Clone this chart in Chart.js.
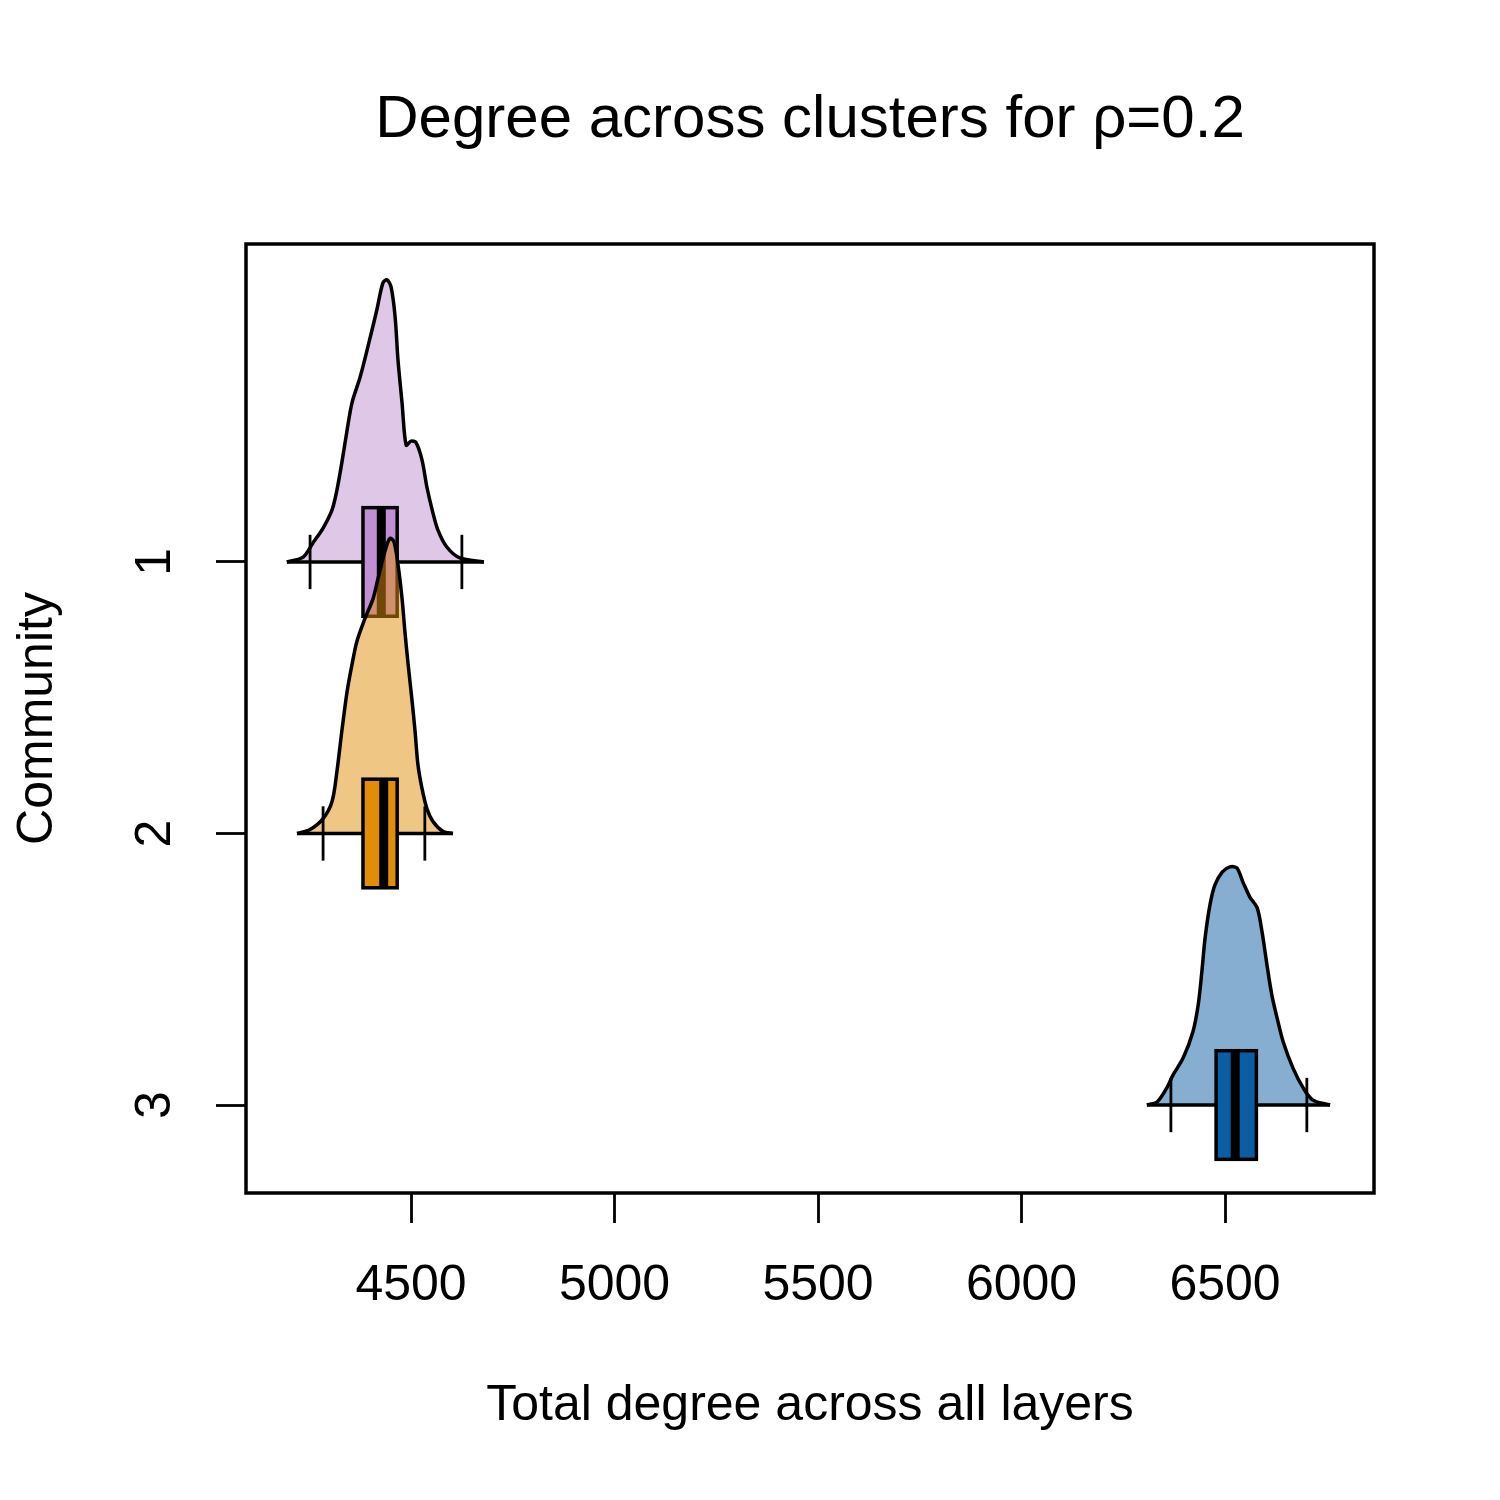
<!DOCTYPE html>
<html>
<head>
<meta charset="utf-8">
<script src="https://cdn.jsdelivr.net/npm/chart.js@4/dist/chart.umd.min.js"></script>
<style>
  html, body { margin: 0; padding: 0; background: #fff; }
  canvas { display: block; }
</style>
</head>
<body>
<canvas id="chart" width="1500" height="1500"></canvas>
<script>
const communities = ['1', '2', '3'];
const xTicks = [4500, 5000, 5500, 6000, 6500];

// density outline of each community (total degree, density height)
const degree1 = [4195, 4235, 4259, 4284, 4306, 4318, 4330, 4343, 4355, 4375, 4394, 4416, 4431, 4441, 4451, 4461, 4468, 4478, 4488, 4500, 4512, 4527, 4539, 4552, 4566, 4588, 4620, 4679];
const density1 = [0, 0.018, 0.070, 0.125, 0.192, 0.265, 0.365, 0.486, 0.586, 0.681, 0.792, 0.928, 1.028, 1.039, 1.013, 0.902, 0.744, 0.586, 0.430, 0.445, 0.440, 0.376, 0.276, 0.192, 0.118, 0.055, 0.015, 0];

const degree2 = [4220, 4252, 4284, 4306, 4318, 4330, 4343, 4355, 4367, 4387, 4407, 4419, 4436, 4448, 4458, 4468, 4478, 4485, 4493, 4502, 4510, 4517, 4527, 4539, 4554, 4579, 4603];
const density2 = [0, 0.015, 0.055, 0.118, 0.228, 0.376, 0.523, 0.622, 0.707, 0.792, 0.866, 0.939, 1.039, 1.087, 1.075, 0.991, 0.866, 0.744, 0.622, 0.497, 0.376, 0.254, 0.166, 0.092, 0.044, 0.007, 0];

const degree3 = [6308, 6333, 6357, 6372, 6397, 6421, 6434, 6443, 6451, 6463, 6475, 6493, 6512, 6529, 6544, 6561, 6579, 6591, 6603, 6615, 6628, 6643, 6667, 6692, 6716, 6758];
const density3 = [0, 0.011, 0.063, 0.110, 0.173, 0.269, 0.368, 0.490, 0.615, 0.737, 0.810, 0.858, 0.877, 0.873, 0.821, 0.766, 0.726, 0.637, 0.516, 0.405, 0.320, 0.232, 0.136, 0.063, 0.018, 0];

// box summaries
const q1 = [4382, 4382, 6478];
const median = [4427, 4433, 6525];
const q3 = [4466, 4466, 6577];
const whiskerLow = [4252, 4284, 6367];
const whiskerHigh = [4625, 4534, 6701];

const boxColors = ['rgb(192,144,210)', 'rgb(224,142,10)', 'rgb(11,94,162)'];
const fillColors = ['rgba(192,144,210,0.5)', 'rgba(224,142,10,0.5)', 'rgba(11,94,162,0.5)'];

const degrees = [degree1, degree2, degree3];
const densities = [density1, density2, density3];

Chart.defaults.font.family = '"Liberation Sans", Arial, Helvetica, sans-serif';
Chart.defaults.color = '#000';

const datasets = communities.map((c, i) => ({
  label: 'Community ' + c,
  data: degrees[i].map((d, k) => ({ x: d, y: i + 1 - densities[i][k] })),
  borderColor: '#000',
  borderWidth: 3.5,
  backgroundColor: fillColors[i],
  fill: { value: i + 1 },
  pointRadius: 0,
  tension: 0.3,
  order: communities.length - i,
}));

// draws baseline, whisker marks, box and median after each half violin
const beanParts = {
  id: 'beanParts',
  afterDatasetDraw(chart, args) {
    const i = args.index;
    const { ctx, scales: { x, y } } = chart;
    const yc = y.getPixelForValue(i + 1);
    const deg = degrees[i];
    ctx.save();
    ctx.strokeStyle = '#000';
    ctx.lineWidth = 3.5;
    ctx.beginPath();
    ctx.moveTo(x.getPixelForValue(deg[0]), yc);
    ctx.lineTo(x.getPixelForValue(deg[deg.length - 1]), yc);
    ctx.stroke();

    const tickTop = y.getPixelForValue(i + 0.9);
    const tickBot = y.getPixelForValue(i + 1.1);
    ctx.lineWidth = 2.8;
    [whiskerLow[i], whiskerHigh[i]].forEach(v => {
      const px = x.getPixelForValue(v);
      ctx.beginPath();
      ctx.moveTo(px, tickTop);
      ctx.lineTo(px, tickBot);
      ctx.stroke();
    });

    const boxTop = y.getPixelForValue(i + 0.8);
    const boxBot = y.getPixelForValue(i + 1.2);
    const x1 = x.getPixelForValue(q1[i]);
    const x2 = x.getPixelForValue(q3[i]);
    ctx.fillStyle = boxColors[i];
    ctx.fillRect(x1, boxTop, x2 - x1, boxBot - boxTop);
    ctx.lineWidth = 3.5;
    ctx.strokeRect(x1, boxTop, x2 - x1, boxBot - boxTop);

    const xm = x.getPixelForValue(median[i]);
    ctx.lineWidth = 9;
    ctx.beginPath();
    ctx.moveTo(xm, boxTop);
    ctx.lineTo(xm, boxBot);
    ctx.stroke();
    ctx.restore();
  },
  afterDraw(chart) {
    const { ctx, chartArea: a } = chart;
    ctx.save();
    ctx.strokeStyle = '#000';
    ctx.lineWidth = 3.5;
    ctx.strokeRect(a.left, a.top, a.right - a.left, a.bottom - a.top);
    ctx.restore();
  }
};

const config = {
  type: 'line',
  data: { datasets },
  options: {
    responsive: false,
    animation: false,
    layout: { padding: { left: 0, right: 126, top: 0, bottom: 0 } },
    plugins: {
      legend: { display: false },
      tooltip: { enabled: false },
      title: {
        display: true,
        text: 'Degree across clusters for ρ=0.2',
        fullSize: false,
        color: '#000',
        font: { size: 60, weight: 'normal' },
        padding: { top: 84, bottom: 88 },
      },
    },
    scales: {
      x: {
        type: 'linear',
        min: 4094.6,
        max: 6866,
        afterBuildTicks: s => { s.ticks = xTicks.map(v => ({ value: v })); },
        afterFit: s => { s.height = 307; },
        ticks: { callback: v => String(v), font: { size: 50 }, color: '#000', padding: 33, maxRotation: 0, autoSkip: false },
        grid: { drawOnChartArea: false, tickLength: 30, tickWidth: 2.8, color: '#000' },
        border: { display: false },
        title: {
          display: true,
          text: 'Total degree across all layers',
          color: '#000',
          font: { size: 50 },
          padding: { top: 0, bottom: 64 },
        },
      },
      y: {
        type: 'linear',
        reverse: true,
        min: -0.171,
        max: 3.324,
        afterBuildTicks: s => { s.ticks = communities.map((c, i) => ({ value: i + 1 })); },
        afterFit: s => { s.width = 246; },
        ticks: {
          callback: v => communities[v - 1],
          font: { size: 50 },
          color: '#000',
          minRotation: 90,
          maxRotation: 90,
          crossAlign: 'center',
          padding: 46,
          autoSkip: false,
        },
        grid: { drawOnChartArea: false, tickLength: 30, tickWidth: 2.8, color: '#000' },
        border: { display: false },
        title: {
          display: true,
          text: 'Community',
          color: '#000',
          font: { size: 50 },
          padding: { top: 8, bottom: 0 },
        },
      },
    },
  },
  plugins: [beanParts],
};

new Chart(document.getElementById('chart'), config);
</script>
</body>
</html>
